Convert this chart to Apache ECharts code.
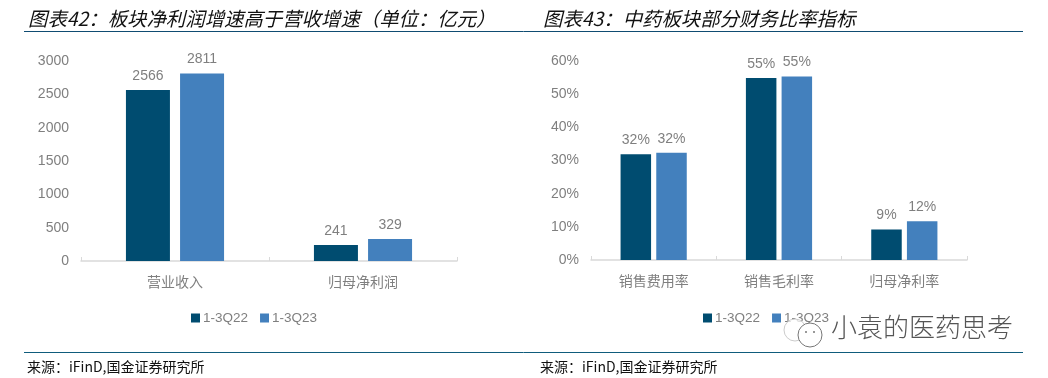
<!DOCTYPE html>
<html>
<head>
<meta charset="utf-8">
<title>中药板块</title>
<style>
    html, body { margin: 0; padding: 0; background: #fff; }
    #chart { width: 1048px; height: 378px; }
</style>
<script src="https://cdn.jsdelivr.net/npm/echarts@6/dist/echarts.min.js"></script>
</head>
<body>
<div id="chart"></div>
<script>
// Data
// ------------------------------
var seriesNames = ['1-3Q22', '1-3Q23'];

var revenueCategories = ['营业收入', '归母净利润'];
var revenue22 = [2566, 241];
var revenue23 = [2811, 329];

var ratioCategories = ['销售费用率', '销售毛利率', '归母净利率'];
var ratio22 = [31.9, 54.9, 9.2];
var ratio23 = [32.3, 55.3, 11.7];

var titleLeft = '图表42：板块净利润增速高于营收增速（单位：亿元）';
var titleRight = '图表43：中药板块部分财务比率指标';
var sourceText = '来源：iFinD,国金证券研究所';
var watermarkText = '小袁的医药思考';

var colorDark = '#004c70';
var colorLight = '#4380bd';
var textGrey = '#7f7f7f';
var latin = '"Liberation Sans", Arial, sans-serif';
var cjk = '"Noto Sans CJK SC", sans-serif';

var chart = echarts.init(document.getElementById('chart'));

function categoryAxis(index, data) {
    return {
        type: 'category',
        gridIndex: index,
        data: data,
        axisLine: { lineStyle: { color: '#d9d9d9', width: 1.5 } },
        axisTick: { show: true, inside: true, length: 4, lineStyle: { color: '#d9d9d9' } },
        axisLabel: { color: textGrey, fontSize: 14, fontFamily: cjk, margin: 14 }
    };
}

function valueAxis(index, max, interval, formatter) {
    return {
        type: 'value',
        gridIndex: index,
        min: 0,
        max: max,
        interval: interval,
        axisLine: { show: false },
        axisTick: { show: false },
        splitLine: { show: false },
        axisLabel: { color: textGrey, fontSize: 14, fontFamily: latin, margin: 12, formatter: formatter }
    };
}

function barSeries(index, name, color, data, width, gap, formatter) {
    return {
        name: name,
        type: 'bar',
        xAxisIndex: index,
        yAxisIndex: index,
        barWidth: width,
        barGap: gap,
        itemStyle: { color: color },
        label: {
            show: true,
            position: 'top',
            distance: 7,
            color: textGrey,
            fontSize: 14,
            fontFamily: latin,
            formatter: formatter
        },
        data: data
    };
}

function legendAt(left) {
    return {
        left: left,
        top: 306,
        itemWidth: 9,
        itemHeight: 9,
        itemGap: 12,
        icon: 'rect',
        data: seriesNames,
        textStyle: { color: textGrey, fontSize: 13.5, fontFamily: latin, padding: [0, 0, 0, -2] }
    };
}

function titleAt(left, top, text, size, italic) {
    return {
        left: left,
        top: top,
        padding: 0,
        text: text,
        textStyle: {
            color: '#111',
            fontSize: size,
            fontWeight: 'normal',
            fontStyle: italic ? 'italic' : 'normal',
            fontFamily: cjk
        }
    };
}

var percentLabel = function(p) { return Math.round(p.value) + '%'; };
var plainLabel = function(v) { return String(v); };

chart.setOption({
    animation: false,
    backgroundColor: '#fff',

    title: [
        titleAt(28, 9, titleLeft, 19.4, true),
        titleAt(543, 9, titleRight, 19.4, true),
        titleAt(27, 360, sourceText, 14, false),
        titleAt(540, 360, sourceText, 14, false)
    ],

    legend: [legendAt(186), legendAt(698)],

    grid: [
        { left: 81, top: 61, width: 376, height: 200 },
        { left: 591, top: 61, width: 376, height: 199 }
    ],

    xAxis: [categoryAxis(0, revenueCategories), categoryAxis(1, ratioCategories)],
    yAxis: [
        valueAxis(0, 3000, 500, plainLabel),
        valueAxis(1, 60, 10, '{value}%')
    ],

    series: [
        barSeries(0, seriesNames[0], colorDark, revenue22, 44, '23%'),
        barSeries(0, seriesNames[1], colorLight, revenue23, 44, '23%'),
        barSeries(1, seriesNames[0], colorDark, ratio22, 30.5, '17%', percentLabel),
        barSeries(1, seriesNames[1], colorLight, ratio23, 30.5, '17%', percentLabel)
    ],

    // Rules and watermark
    graphic: [
        { type: 'line', z: 5, shape: { x1: 24, y1: 31.5, x2: 1023, y2: 31.5 }, style: { stroke: '#0f4c72', lineWidth: 1 } },
        { type: 'line', z: 5, shape: { x1: 24, y1: 352.5, x2: 1023, y2: 352.5 }, style: { stroke: '#0f5c7c', lineWidth: 1 } },
        { type: 'circle', z: 6, shape: { cx: 795, cy: 330, r: 11 }, style: { fill: 'rgba(255,255,255,0.75)', stroke: '#ccc', lineWidth: 1 } },
        { type: 'circle', z: 6, shape: { cx: 810, cy: 335, r: 12 }, style: { fill: '#fff', stroke: '#777', lineWidth: 1 } },
        { type: 'circle', z: 7, shape: { cx: 806, cy: 332, r: 1 }, style: { fill: '#777' } },
        { type: 'circle', z: 7, shape: { cx: 814, cy: 332, r: 1 }, style: { fill: '#777' } },
        {
            type: 'text',
            z: 6,
            left: 831,
            top: 314,
            style: { text: watermarkText, fill: '#555', font: '200 26px ' + cjk }
        }
    ]
});
</script>
</body>
</html>
